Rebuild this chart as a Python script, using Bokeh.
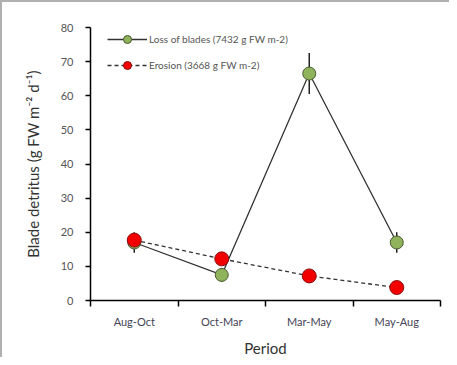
from bokeh.plotting import figure
from bokeh.models import FixedTicker, Range1d, Legend, LegendItem
from bokeh.embed import file_html
from bokeh.resources import INLINE

periods = ["Aug-Oct", "Oct-Mar", "Mar-May", "May-Aug"]
loss = [17.0, 7.5, 66.5, 17.0]
loss_err = [3.0, 2.0, 6.0, 3.0]
erosion = [17.7, 12.2, 7.2, 3.8]
erosion_err = [1.5, 1.5, 0.8, 0.8]
y_ticks = [0, 10, 20, 30, 40, 50, 60, 70, 80]
loss_label = "Loss of blades (7432 g FW m-2)"
erosion_label = "Erosion (3668 g FW m-2)"

xs = [i + 0.5 for i in range(len(periods))]
bounds = list(range(len(periods) + 1))

FONT = "Lato"

p = figure(width=449, height=357, output_backend="svg", toolbar_location=None,
           x_range=Range1d(0, len(periods)), y_range=Range1d(0, 80),
           min_border_left=88, min_border_right=11, min_border_top=25, min_border_bottom=59)
p.styles = {"border-left": "2px solid #b0b0b0", "border-top": "2px solid #b0b0b0"}
p.outline_line_color = None
p.grid.grid_line_color = None
p.background_fill_color = "white"
p.border_fill_color = "white"

# x axis
p.xaxis.ticker = FixedTicker(ticks=xs, minor_ticks=bounds)
p.xaxis.major_label_overrides = {x: lab for x, lab in zip(xs, periods)}
p.xaxis.major_tick_out = 0
p.xaxis.major_tick_in = 0
p.xaxis.minor_tick_out = 6
p.xaxis.minor_tick_in = 0
p.xaxis.minor_tick_line_color = "black"
p.xaxis.minor_tick_line_width = 1.5
p.xaxis.axis_line_width = 1.5
p.xaxis.axis_line_color = "black"
p.xaxis.major_label_text_font = FONT
p.xaxis.major_label_text_font_size = "11px"
p.xaxis.major_label_text_color = "#444455"
p.xaxis.major_label_standoff = 8
p.xaxis.axis_label = "Period"
p.xaxis.axis_label_text_font = FONT
p.xaxis.axis_label_text_font_size = "15px"
p.xaxis.axis_label_text_font_style = "normal"
p.xaxis.axis_label_text_color = "#333333"
p.xaxis.axis_label_standoff = 8

# y axis
p.yaxis.ticker = FixedTicker(ticks=y_ticks)
p.yaxis.minor_tick_line_color = None
p.yaxis.major_tick_out = 5
p.yaxis.major_tick_in = 0
p.yaxis.major_tick_line_width = 1.5
p.yaxis.axis_line_width = 1.5
p.yaxis.axis_line_color = "black"
p.yaxis.major_label_text_font = FONT
p.yaxis.major_label_text_font_size = "11px"
p.yaxis.major_label_text_color = "#555555"
p.yaxis.major_label_standoff = 12
p.yaxis.axis_label = "Blade detritus (g FW m\u207b\u00b2 d\u207b\u00b9)"
p.yaxis.axis_label_text_font = FONT
p.yaxis.axis_label_text_font_size = "15px"
p.yaxis.axis_label_text_font_style = "normal"
p.yaxis.axis_label_text_color = "#333333"
p.yaxis.axis_label_standoff = 16

# lines
l1 = p.line(xs, loss, line_color="#333333", line_width=1.3)
l2 = p.line(xs, erosion, line_color="#333333", line_width=1.3, line_dash="4 3")

# error bars
p.segment(xs, [v - e for v, e in zip(loss, loss_err)], xs, [v + e for v, e in zip(loss, loss_err)],
          line_color="#222222", line_width=1.5)
p.segment(xs, [v - e for v, e in zip(erosion, erosion_err)], xs, [v + e for v, e in zip(erosion, erosion_err)],
          line_color="#222222", line_width=1.5)

m1 = p.scatter(xs, loss, size=13, fill_color="#8fb35a", line_color="#4a5a30", line_width=1)
m2 = p.scatter(xs, erosion, size=14, fill_color="#f20000", line_color="#8a1010", line_width=1)

legend = Legend(items=[LegendItem(label=loss_label, renderers=[l1, m1]),
                       LegendItem(label=erosion_label, renderers=[l2, m2])],
                location=(17, 225))
legend.border_line_color = None
legend.background_fill_alpha = 0
legend.label_text_font = FONT
legend.label_text_font_size = "10px"
legend.label_text_color = "#555555"
legend.glyph_width = 40
legend.glyph_height = 20
legend.label_height = 20
legend.spacing = 6
legend.margin = 0
legend.padding = 0
legend.label_standoff = 2
p.add_layout(legend)

open("out.html", "w").write(file_html(p, INLINE))
